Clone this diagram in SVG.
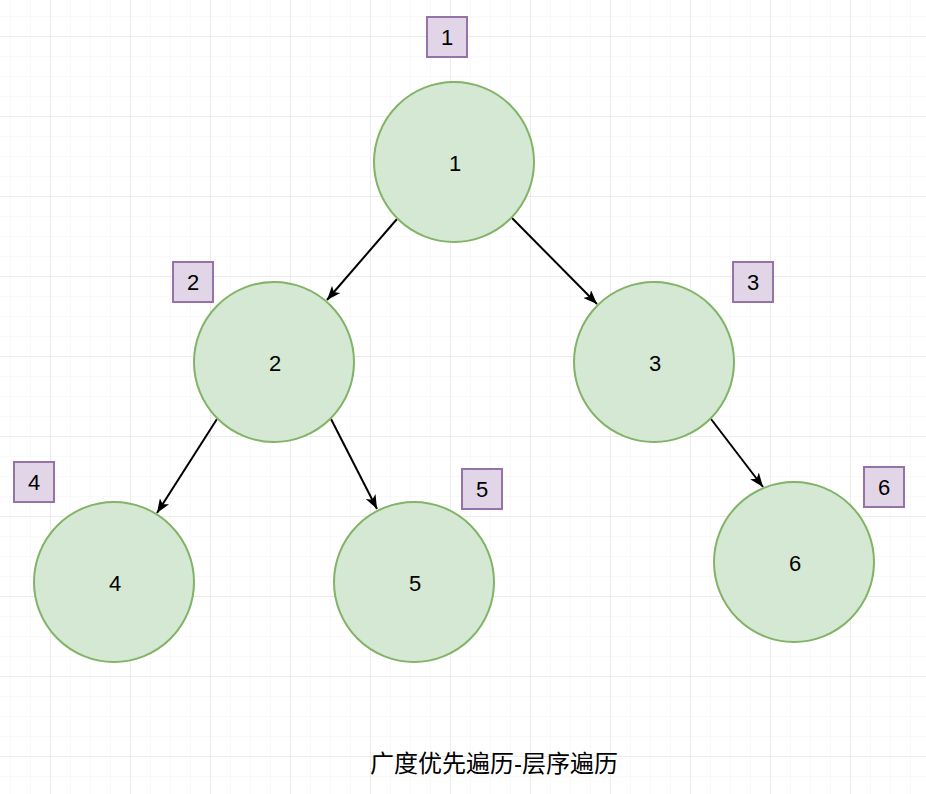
<svg xmlns="http://www.w3.org/2000/svg" width="926" height="794" viewBox="0 0 926 794">
  <defs>
    <pattern id="minor" x="10" y="16" width="20" height="20" patternUnits="userSpaceOnUse">
      <path d="M0,0 H20 M0,0 V20" fill="none" stroke="#f3f3f3" stroke-width="1"/>
    </pattern>
    <pattern id="major" x="50" y="36" width="80" height="80" patternUnits="userSpaceOnUse">
      <path d="M0,0 H80 M0,0 V80" fill="none" stroke="#dedede" stroke-width="1"/>
    </pattern>
    <marker id="arrow" viewBox="0 0 14 11" refX="14" refY="5.5" markerWidth="14" markerHeight="11" markerUnits="userSpaceOnUse" orient="auto">
      <path d="M0,0 L14,5.5 L0,11 L3.5,5.5 Z" fill="#000"/>
    </marker>
    <style>
      .circle { fill: #d5e8d4; stroke: #82b366; stroke-width: 2; }
      .box { fill: #e1d5e7; stroke: #9673a6; stroke-width: 2; }
      .lbl { font-family: "Liberation Sans", Arial, sans-serif; font-size: 22px; fill: #000; text-anchor: middle; }
      .edge { stroke: #000; stroke-width: 2; fill: none; marker-end: url(#arrow); }
      .title { font-family: "Liberation Sans", "Noto Sans CJK SC", sans-serif; font-size: 24px; fill: #000; text-anchor: middle; }
    </style>
  </defs>
  <rect width="926" height="794" fill="#fff"/>
  <rect width="926" height="794" fill="url(#minor)"/>
  <rect width="926" height="794" fill="url(#major)"/>

  <g id="connectors">
    <line class="edge" x1="397" y1="219" x2="327" y2="300"/>
    <line class="edge" x1="512" y1="218" x2="597" y2="304"/>
    <line class="edge" x1="217" y1="419" x2="157" y2="513"/>
    <line class="edge" x1="331" y1="419" x2="377" y2="509"/>
    <line class="edge" x1="711" y1="419" x2="763" y2="487"/>
  </g>

  <g id="node1"><circle class="circle" cx="454" cy="162" r="80"/><text class="lbl" x="455" y="171">1</text></g>
  <g id="node2"><circle class="circle" cx="274" cy="362" r="80"/><text class="lbl" x="275" y="371">2</text></g>
  <g id="node3"><circle class="circle" cx="654" cy="362" r="80"/><text class="lbl" x="655" y="371">3</text></g>
  <g id="node4"><circle class="circle" cx="114" cy="582" r="80"/><text class="lbl" x="115" y="591">4</text></g>
  <g id="node5"><circle class="circle" cx="414" cy="582" r="80"/><text class="lbl" x="415" y="591">5</text></g>
  <g id="node6"><circle class="circle" cx="794" cy="562" r="80"/><text class="lbl" x="795" y="571">6</text></g>

  <g id="tag1"><rect class="box" x="427" y="17" width="40" height="40"/><text class="lbl" x="447" y="45">1</text></g>
  <g id="tag2"><rect class="box" x="173" y="262" width="40" height="40"/><text class="lbl" x="193" y="290">2</text></g>
  <g id="tag3"><rect class="box" x="733" y="262" width="40" height="40"/><text class="lbl" x="753" y="290">3</text></g>
  <g id="tag4"><rect class="box" x="14" y="462" width="40" height="40"/><text class="lbl" x="34" y="490">4</text></g>
  <g id="tag5"><rect class="box" x="462" y="469" width="40" height="40"/><text class="lbl" x="482" y="497">5</text></g>
  <g id="tag6"><rect class="box" x="864" y="467" width="40" height="40"/><text class="lbl" x="884" y="495">6</text></g>

  <g id="title"><text class="title" x="494" y="772">广度优先遍历-层序遍历</text></g>
</svg>
